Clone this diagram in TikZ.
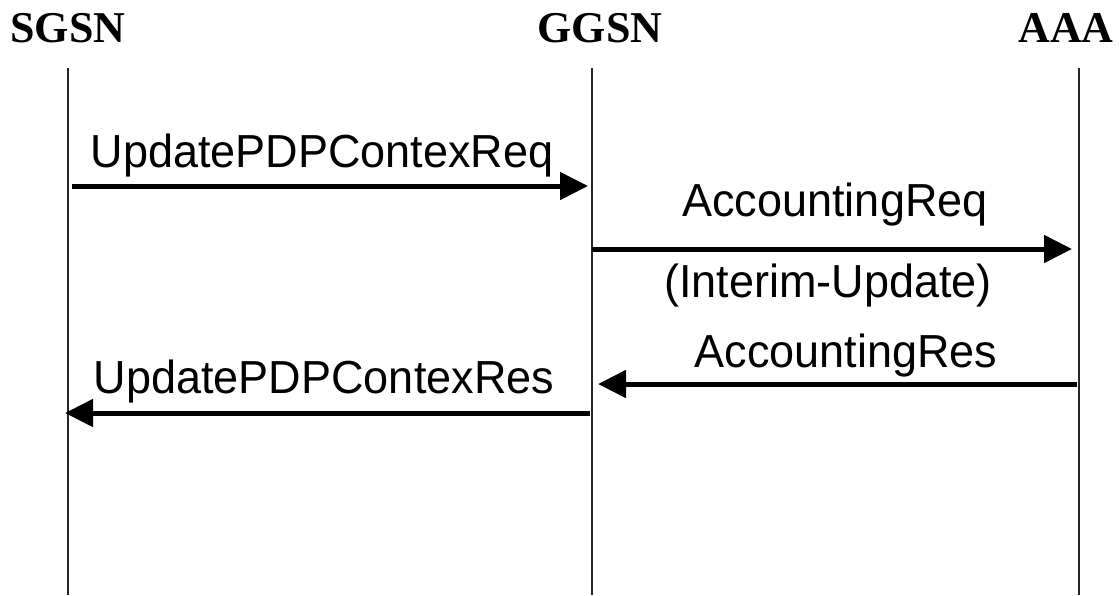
\documentclass[tikz,border=0pt]{standalone}
\usepackage{fontspec}
\setmainfont{Liberation Serif}
\setsansfont{Liberation Sans}
\usetikzlibrary{arrows.meta}

\tikzset{
  lifeline/.style={line width=1.2pt, black!85},
  msg/.style={line width=5pt, -{Triangle[length=28pt,width=27pt]}},
  entity/.style={font=\fontsize{44}{44}\selectfont\bfseries, anchor=base, inner sep=0pt},
  msglabel/.style={font=\fontsize{45}{45}\selectfont\sffamily, anchor=base, inner sep=0pt, yscale=1.03},
}

\begin{document}
\begin{tikzpicture}[x=1pt,y=-1pt]
				\useasboundingbox (0,0) rectangle (1119,595);

				% entities
				\node[entity](sgsn) at (68, 42){SGSN};
				\node[entity](ggsn) at (600, 42){GGSN};
				\node[entity](aaa) at (1066, 42){AAA};

				\coordinate(sgsnTop) at (68, 68);
				\coordinate(sgsnBot) at (68, 595);
				\coordinate(ggsnTop) at (592, 68);
				\coordinate(ggsnBot) at (592, 595);
				\coordinate(aaaTop) at (1079, 68);
				\coordinate(aaaBot) at (1079, 595);

				\draw[lifeline] (sgsnTop)--(sgsnBot);
				\draw[lifeline] (ggsnTop)--(ggsnBot);
				\draw[lifeline] (aaaTop)--(aaaBot);

				% message ends
				\coordinate(updReqFrom) at (72, 186);
				\coordinate(updReqTo) at (588, 186);
				\coordinate(accReqFrom) at (592, 249);
				\coordinate(accReqTo) at (1072, 249);
				\coordinate(accResFrom) at (1077, 384);
				\coordinate(accResTo) at (598, 384);
				\coordinate(updResFrom) at (590, 413);
				\coordinate(updResTo) at (65, 413);

				\draw[msg] (updReqFrom)--(updReqTo);
				\draw[msg] (accReqFrom)--(accReqTo);
				\draw[msg] (accResFrom)--(accResTo);
				\draw[msg] (updResFrom)--(updResTo);

				\node[msglabel](updReq) at (322, 167){UpdatePDPContexReq};
				\node[msglabel](accReq) at (835, 216){AccountingReq};
				\node[msglabel](interim) at (828, 297){(Interim-Update)};
				\node[msglabel](accRes) at (846, 367){AccountingRes};
				\node[msglabel](updRes) at (324, 393){UpdatePDPContexRes};
			\end{tikzpicture}
\end{document}
